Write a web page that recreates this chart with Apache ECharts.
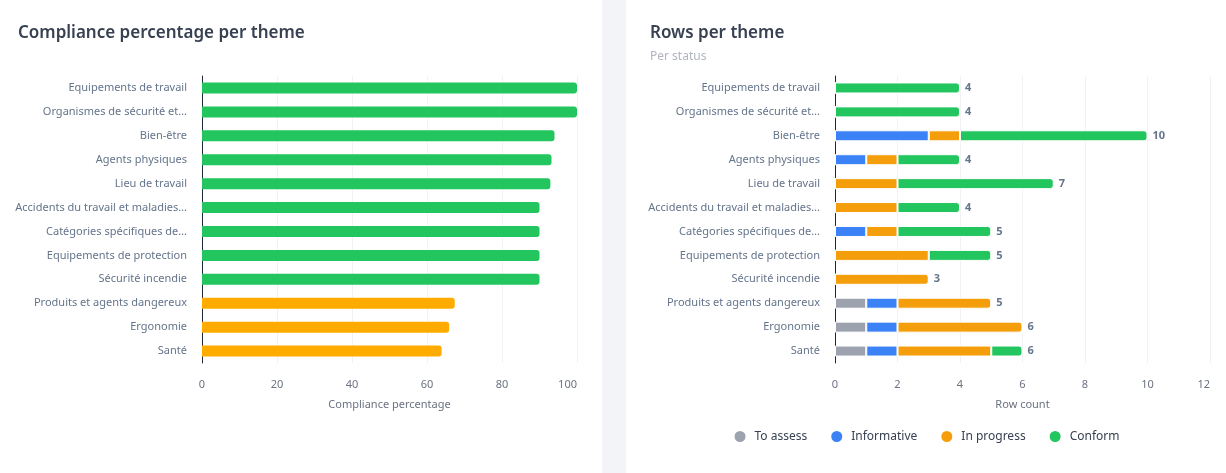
<!DOCTYPE html>
<html>
<head>
<meta charset="utf-8">
<script src="https://cdn.jsdelivr.net/npm/echarts@6/dist/echarts.min.js"></script>
<style>
  html, body { margin: 0; padding: 0; background: #f3f4f8; }
  body { width: 1226px; height: 473px; position: relative; overflow: hidden; }
  .card { position: absolute; top: 0; height: 473px; background: #fff; }
  #left { left: 0; width: 602px; }
  #right { left: 626px; width: 600px; }
</style>
</head>
<body>
<div class="card" id="left"></div>
<div class="card" id="right"></div>
<script>
var themes = [
    'Equipements de travail',
    'Organismes de sécurité et…',
    'Bien-être',
    'Agents physiques',
    'Lieu de travail',
    'Accidents du travail et maladies…',
    'Catégories spécifiques de…',
    'Equipements de protection',
    'Sécurité incendie',
    'Produits et agents dangereux',
    'Ergonomie',
    'Santé'
];
var compliance = [100, 100, 94, 93.2, 92.9, 90, 90, 90, 90, 67.4, 65.9, 63.9];

var statusNames = ['To assess', 'Informative', 'In progress', 'Conform'];
var toAssess    = [0, 0, 0, 0, 0, 0, 0, 0, 0, 1, 1, 1];
var informative = [0, 0, 3, 1, 0, 0, 1, 0, 0, 1, 1, 1];
var inProgress  = [0, 0, 1, 1, 2, 2, 1, 3, 3, 3, 4, 3];
var conform     = [4, 4, 6, 2, 5, 2, 3, 2, 0, 0, 0, 1];
var statusColors = ['#9ca3af', '#3b82f6', '#f59e0b', '#22c55e'];

var FONT = '"Noto Sans", sans-serif';
var titleStyle = { fontFamily: FONT, fontSize: 17, fontWeight: 600, color: '#374151' };
var axisText = { fontFamily: FONT, fontSize: 11, color: '#6b7280' };

// left chart: compliance percentage
var chart1 = echarts.init(document.getElementById('left'));
chart1.setOption({
    animation: false,
    title: { text: 'Compliance percentage per theme', left: 13, top: 20, textStyle: titleStyle },
    grid: { left: 202, right: 25, top: 76, bottom: 110 },
    xAxis: {
        type: 'value', min: 0, max: 100, interval: 20,
        name: 'Compliance percentage', nameLocation: 'middle', nameGap: 36,
        nameTextStyle: { fontFamily: FONT, fontSize: 11, color: '#6b7280' },
        axisLabel: Object.assign({ margin: 16, alignMaxLabel: 'right' }, axisText),
        axisLine: { show: false }, axisTick: { show: false },
        splitLine: { lineStyle: { color: '#f1f2f6' } }
    },
    yAxis: {
        type: 'category', data: themes, inverse: true,
        axisLabel: Object.assign({ margin: 15 }, axisText, { color: '#64748b' }),
        axisLine: { lineStyle: { color: '#1f2937' } }, axisTick: { show: false }
    },
    series: [{
        type: 'bar', barWidth: 11,
        data: compliance.map(function (v) {
            return { value: v, itemStyle: { color: v >= 80 ? '#22c55e' : '#ffab00' } };
        }),
        itemStyle: { borderRadius: [0, 3, 3, 0] }
    }]
});

// right chart: rows per status, stacked
var stacks = [toAssess, informative, inProgress, conform];
var totals = themes.map(function (t, i) {
    return toAssess[i] + informative[i] + inProgress[i] + conform[i];
});
var lastIdx = themes.map(function (t, i) {
    var k = -1;
    stacks.forEach(function (arr, s) { if (arr[i] > 0) k = s; });
    return k;
});

var chart2 = echarts.init(document.getElementById('right'));
chart2.setOption({
    animation: false,
    title: {
        text: 'Rows per theme', subtext: 'Per status', left: 19, top: 20, itemGap: 9,
        textStyle: titleStyle,
        subtextStyle: { fontFamily: FONT, fontSize: 12, color: '#b0b5be' }
    },
    legend: {
        data: statusNames, bottom: 24, left: 'center', icon: 'circle',
        itemWidth: 13, itemHeight: 13, itemGap: 22,
        textStyle: { fontFamily: FONT, fontSize: 12, color: '#374151', padding: [0, 0, 0, 3] }
    },
    grid: { left: 209, right: 16, top: 76, bottom: 110 },
    xAxis: {
        type: 'value', min: 0, max: 12, interval: 2,
        name: 'Row count', nameLocation: 'middle', nameGap: 36,
        nameTextStyle: { fontFamily: FONT, fontSize: 11, color: '#6b7280' },
        axisLabel: Object.assign({ margin: 16, alignMaxLabel: 'right' }, axisText),
        axisLine: { show: false }, axisTick: { show: false },
        splitLine: { lineStyle: { color: '#f1f2f6' } }
    },
    yAxis: {
        type: 'category', data: themes, inverse: true,
        axisLabel: Object.assign({ margin: 15 }, axisText, { color: '#64748b' }),
        axisLine: { lineStyle: { color: '#1f2937' } }, axisTick: { show: false }
    },
    series: stacks.map(function (arr, s) {
        return {
            name: statusNames[s], type: 'bar', stack: 'rows', barWidth: 11,
            itemStyle: { color: statusColors[s], borderColor: '#fff', borderWidth: 1 },
            data: arr.map(function (v, i) {
                if (lastIdx[i] !== s) return v;
                return {
                    value: v,
                    itemStyle: { borderRadius: [0, 3, 3, 0] },
                    label: {
                        show: true, position: 'right', distance: 5,
                        formatter: String(totals[i]),
                        fontFamily: FONT, fontSize: 11, fontWeight: 'bold', color: '#64748b'
                    }
                };
            })
        };
    })
});
</script>
</body>
</html>
